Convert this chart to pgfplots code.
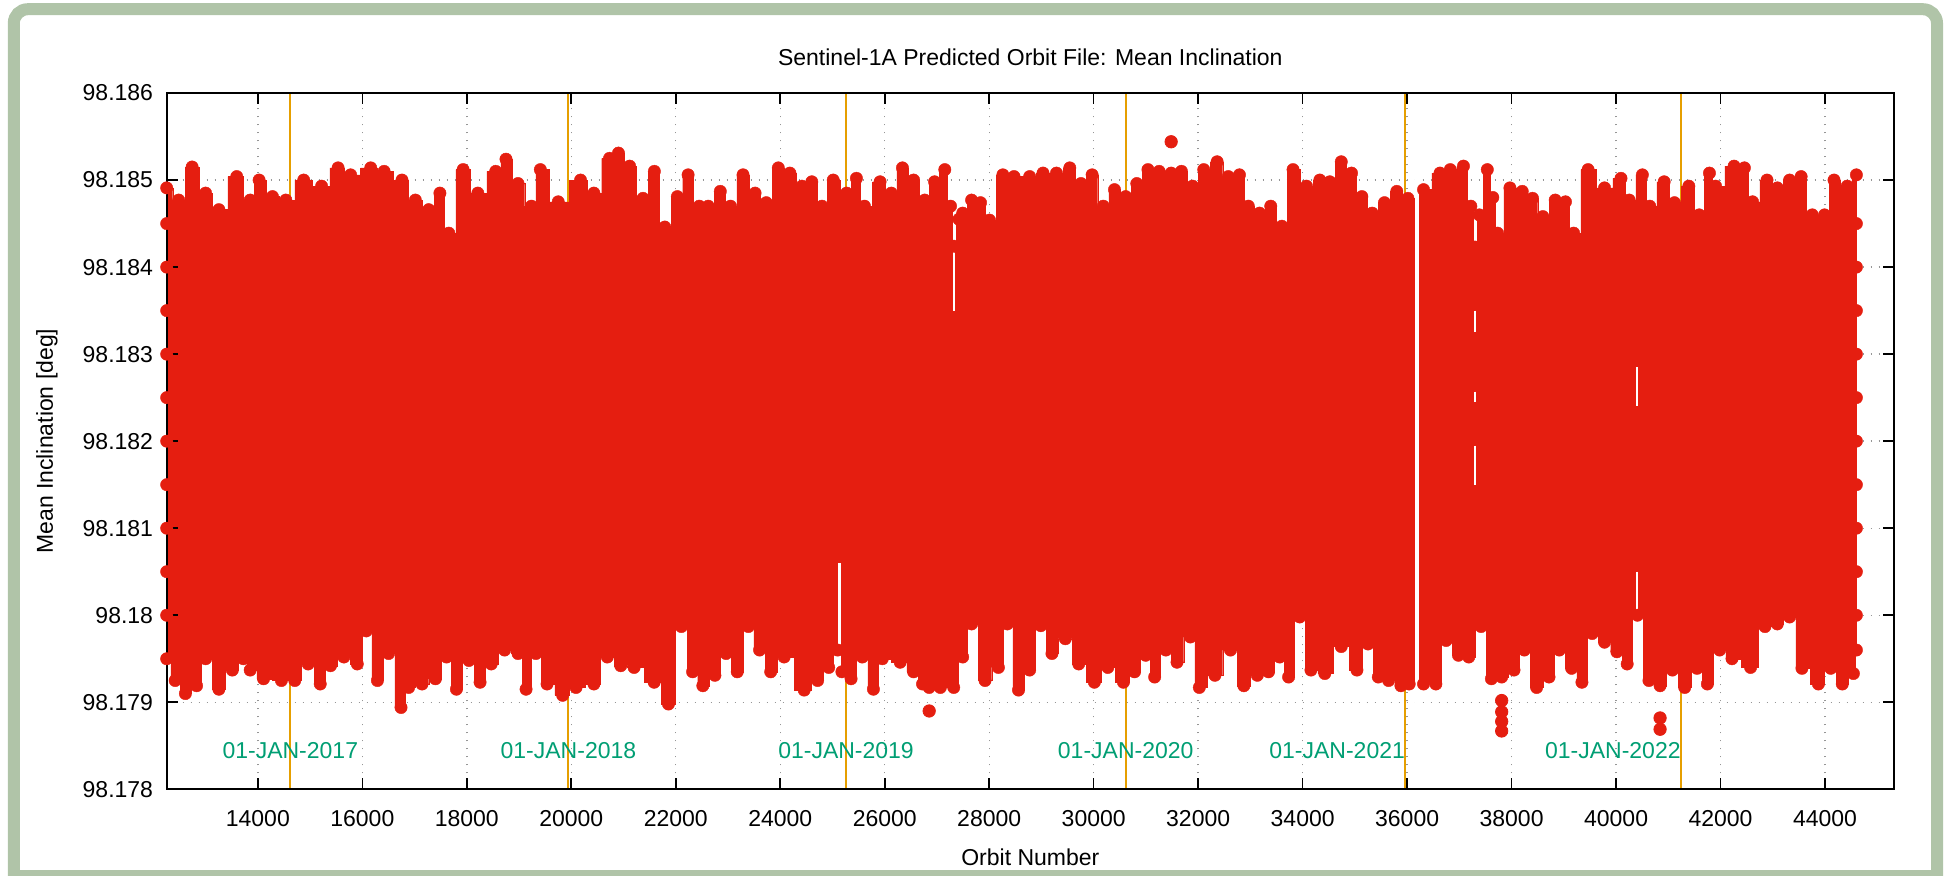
\documentclass[border=0pt]{standalone}
\usepackage{fontspec}
\setmainfont{Liberation Sans}
\usepackage{pgfplots}
\usepackage{pgfplotstable}
\pgfplotsset{compat=1.18}
\definecolor{gpred}{RGB}{229,30,16}
\definecolor{gporange}{RGB}{230,159,0}
\definecolor{gpgreen}{RGB}{0,158,115}
\definecolor{framegreen}{RGB}{176,196,168}
\definecolor{gridgray}{RGB}{150,150,150}

% exact offset of the y values (accepts plain numbers and FPU numbers)
\makeatletter
\def\mytrafo#1{\my@checkY#1Y\@nil}
\def\my@checkY#1Y#2\@nil{%
  \if\relax\detokenize{#2}\relax
    \edef\pgfmathresult{\fpeval{#1-98.18}}%
  \else
    \my@fpu#1Y#2\@nil
  \fi}
\def\my@fpu#1Y#2]Y\@nil{%
  \ifnum#1=2
    \edef\pgfmathresult{\fpeval{-#2-98.18}}%
  \else\ifnum#1=0
    \edef\pgfmathresult{\fpeval{0-98.18}}%
  \else
    \edef\pgfmathresult{\fpeval{#2-98.18}}%
  \fi\fi}
\makeatother

% envelope of the dense point cloud (centres of the outermost points)
\pgfplotstableread{
x y
12255 98.18491
12485 98.18477
12742 98.18515
13000 98.18485
13254 98.18466
13596 98.18504
13853 98.18477
14024 98.18500
14280 98.18481
14536 98.18477
14878 98.18500
15220 98.18493
15536 98.18514
15776 98.18506
16161 98.18514
16417 98.18510
16759 98.18500
17015 98.18477
17271 98.18466
17485 98.18485
17656 98.18439
17929 98.18512
18211 98.18485
18553 98.18510
18750 98.18524
18980 98.18496
19237 98.18470
19408 98.18512
19750 98.18475
20177 98.18500
20433 98.18485
20732 98.18525
20903 98.18531
21117 98.18516
21373 98.18479
21590 98.18510
21790 98.18446
22030 98.18481
22236 98.18506
22450 98.18470
22621 98.18470
22852 98.18487
23048 98.18470
23288 98.18506
23518 98.18485
23732 98.18474
23963 98.18514
24185 98.18508
24416 98.18493
24604 98.18498
24800 98.18470
25014 98.18500
25270 98.18485
25458 98.18502
25612 98.18470
25911 98.18498
26125 98.18485
26339 98.18514
26552 98.18500
26766 98.18477
26954 98.18498
27150 98.18512
27260 98.18470
27330 98.18424
27420 98.18455
27492 98.18462
27663 98.18477
27834 98.18474
28005 98.18454
28262 98.18506
28475 98.18504
28774 98.18504
29030 98.18508
29287 98.18508
29543 98.18514
29757 98.18496
29970 98.18506
30184 98.18470
30398 98.18489
30612 98.18481
30825 98.18496
31039 98.18512
31253 98.18510
31483 98.18508
31680 98.18510
31893 98.18493
32107 98.18512
32363 98.18521
32577 98.18504
32790 98.18506
32961 98.18470
33175 98.18462
33389 98.18470
33603 98.18447
33816 98.18512
34073 98.18493
34329 98.18500
34520 98.18498
34739 98.18521
34936 98.18508
35133 98.18481
35330 98.18462
35566 98.18474
35802 98.18487
36015 98.18479
36314 98.18489
36629 98.18508
36826 98.18512
37078 98.18516
37220 98.18470
37300 98.18423
37380 98.18460
37535 98.18512
37640 98.18480
37732 98.18439
37968 98.18491
38204 98.18487
38401 98.18479
38598 98.18458
38834 98.18477
39031 98.18475
39188 98.18439
39464 98.18512
39779 98.18491
40094 98.18502
40251 98.18477
40503 98.18506
40645 98.18470
40920 98.18498
41117 98.18474
41393 98.18493
41590 98.18460
41787 98.18508
41905 98.18493
42259 98.18516
42456 98.18514
42613 98.18475
42889 98.18500
43086 98.18491
43322 98.18500
43542 98.18504
43755 98.18460
43991 98.18460
44172 98.18500
44424 98.18493
44600 98.18506
44600 98.18450
44600 98.18400
44600 98.18350
44600 98.18300
44600 98.18250
44600 98.18200
44600 98.18150
44600 98.18100
44600 98.18050
44600 98.18000
44600 98.17960
44543 98.17933
44330 98.17921
44109 98.17939
43873 98.17921
43558 98.17939
43322 98.17998
43086 98.17990
42850 98.17987
42574 98.17940
42219 98.17950
41983 98.17960
41747 98.17921
41550 98.17939
41314 98.17917
41078 98.17937
40842 98.17919
40629 98.17925
40409 98.18000
40212 98.17944
40015 98.17958
39779 98.17969
39543 98.17979
39346 98.17923
39149 98.17939
38913 98.17960
38716 98.17929
38479 98.17917
38243 98.17960
38046 98.17937
37810 98.17929
37613 98.17927
37417 98.17987
37180 98.17952
36983 98.17954
36747 98.17971
36550 98.17921
36314 98.17921
36039 98.17921
35881 98.17919
35645 98.17925
35448 98.17929
35251 98.17967
35039 98.17937
34739 98.17964
34424 98.17933
34159 98.17937
33945 98.17998
33731 98.17929
33560 98.17952
33346 98.17935
33132 98.17931
32875 98.17919
32619 98.17960
32321 98.17931
32022 98.17917
31851 98.17975
31595 98.17946
31381 98.17960
31167 98.17929
30996 98.17954
30782 98.17935
30569 98.17923
30270 98.17940
30013 98.17923
29714 98.17944
29457 98.17973
29201 98.17956
28988 98.17988
28774 98.17937
28561 98.17914
28347 98.17990
28176 98.17940
27920 98.17925
27663 98.17990
27492 98.17952
27321 98.17917
27065 98.17917
26851 98.17917
26723 98.17921
26552 98.17935
26296 98.17946
25954 98.17950
25783 98.17915
25570 98.17952
25356 98.17927
25180 98.17935
25099 98.17960
24928 98.17940
24715 98.17925
24458 98.17914
24074 98.17952
23817 98.17935
23604 98.17960
23390 98.17987
23177 98.17935
22963 98.17956
22749 98.17931
22518 98.17919
22322 98.17935
22108 98.17987
21860 98.17898
21586 98.17923
21202 98.17940
20946 98.17942
20689 98.17952
20433 98.17921
20091 98.17917
19835 98.17908
19536 98.17921
19322 98.17956
19134 98.17915
18980 98.17956
18723 98.17960
18467 98.17944
18254 98.17923
18040 98.17948
17801 98.17915
17613 98.17952
17399 98.17927
17143 98.17921
16887 98.17917
16741 98.17894
16502 98.17956
16289 98.17925
16075 98.17982
15903 98.17944
15647 98.17952
15391 98.17942
15194 98.17921
14963 98.17944
14707 98.17925
14451 98.17925
14109 98.17927
13853 98.17937
13724 98.17950
13511 98.17937
13254 98.17915
13000 98.17950
12827 98.17919
12613 98.17910
12417 98.17925
12255 98.17950
12255 98.18000
12255 98.18050
12255 98.18100
12255 98.18150
12255 98.18200
12255 98.18250
12255 98.18300
12255 98.18350
12255 98.18400
12255 98.18450
}\envelope

% isolated points outside the main cloud
\pgfplotstableread{
x y
31483 98.18544
26851 98.17890
37810 98.17902
37810 98.17889
37810 98.17878
37810 98.17867
40842 98.17882
40842 98.17869
}\outliers

\begin{document}
\begin{tikzpicture}[font=\fontsize{11.5}{13.8}\selectfont]
\path[use as bounding box] (0pt,0pt) rectangle (972.5pt,-437.5pt);
\draw[framegreen, line width=6pt, rounded corners=7pt]
  (6.9pt,-445pt) -- (6.9pt,-4.6pt) -- (968.5pt,-4.6pt) -- (968.5pt,-445pt);
\draw[framegreen, line width=6pt] (6.9pt,-438pt) -- (968.5pt,-438pt);
\begin{axis}[
  at={(83.35pt,-394.65pt)}, anchor=south west,
  scale only axis, width=863.65pt, height=348.15pt,
  xmin=12255, xmax=45320, ymin=98.178, ymax=98.186,
  y coord trafo/.code={\mytrafo{#1}},
  scaled x ticks=false, scaled y ticks=false,
  clip=false, axis on top,
  xtick={14000,16000,18000,20000,22000,24000,26000,28000,30000,32000,34000,36000,38000,40000,42000,44000},
  xticklabels={14000,16000,18000,20000,22000,24000,26000,28000,30000,32000,34000,36000,38000,40000,42000,44000},
  ytick={98.178,98.179,98.18,98.181,98.182,98.183,98.184,98.185,98.186},
  yticklabels={98.178,98.179,98.18,98.181,98.182,98.183,98.184,98.185,98.186},
  tick align=inside, major tick length=5.5pt,
  every tick/.style={black, line width=0.8pt},
  axis line style={black, line width=0.9pt},
  xticklabel style={anchor=center, yshift=-14.4pt},
  yticklabel style={anchor=east, xshift=-3.3pt},
  every axis title/.style={at={(axis description cs:0.5,1)}, anchor=center, yshift=18pt},
  every axis x label/.style={at={(axis description cs:0.5,0)}, anchor=center, yshift=-33.9pt},
  every axis y label/.style={at={(axis description cs:0,0.5)}, xshift=-59.9pt, rotate=90, anchor=center},
  title={Sentinel-1A Predicted Orbit File: Mean Inclination},
  xlabel={Orbit Number},
  ylabel={Mean Inclination [deg]},
]
% dotted grid
\pgfplotsinvokeforeach{14000,16000,18000,20000,22000,24000,26000,28000,30000,32000,34000,36000,38000,40000,42000,44000}{
  \addplot[gridgray, line width=0.7pt, dash pattern=on 0.7pt off 3.3pt] coordinates {(#1,98.178) (#1,98.186)};
}
\pgfplotsinvokeforeach{98.179,98.18,98.181,98.182,98.183,98.184,98.185}{
  \addplot[gridgray, line width=0.7pt, dash pattern=on 0.7pt off 3.3pt] coordinates {(12255,#1) (45320,#1)};
}
% year boundaries
\pgfplotsinvokeforeach{14621,19945,25259,30613,35965,41243}{
  \addplot[gporange, line width=1pt] coordinates {(#1,98.178) (#1,98.186)};
}
% point cloud
\addplot[gpred, fill=gpred, line width=0.2pt, const plot mark mid, mark=*, mark size=3.1pt,
  mark options={solid, fill=gpred, draw=gpred}] table {\envelope};
\addplot[only marks, mark=*, mark size=3.1pt, gpred] table {\outliers};
% gaps in the cloud
\addplot[white, line width=2pt] coordinates {(36190,98.17895) (36190,98.18528)};
\addplot[white, line width=1.4pt] coordinates {(25140,98.17915) (25140,98.18060)};
\addplot[white, line width=0.8pt] coordinates {(27330,98.18430) (27330,98.18350)};
\addplot[white, line width=0.9pt] coordinates {(37300,98.18350) (37300,98.18325)};
\addplot[white, line width=0.9pt] coordinates {(37300,98.18257) (37300,98.18245)};
\addplot[white, line width=0.8pt] coordinates {(37300,98.18195) (37300,98.18150)};
\addplot[white, line width=0.6pt] coordinates {(40400,98.18285) (40400,98.18240)};
\addplot[white, line width=1pt] coordinates {(40400,98.18050) (40400,98.18000)};
% date labels
\node[gpgreen, anchor=center] at (axis description cs:0.07156,0.0563) {01-JAN-2017};
\node[gpgreen, anchor=center] at (axis description cs:0.23257,0.0563) {01-JAN-2018};
\node[gpgreen, anchor=center] at (axis description cs:0.39329,0.0563) {01-JAN-2019};
\node[gpgreen, anchor=center] at (axis description cs:0.55521,0.0563) {01-JAN-2020};
\node[gpgreen, anchor=east, inner sep=0pt] at (axis description cs:0.71707,0.0563) {01-JAN-2021};
\node[gpgreen, anchor=east, inner sep=0pt] at (axis description cs:0.87670,0.0563) {01-JAN-2022};
\end{axis}
\end{tikzpicture}
\end{document}
